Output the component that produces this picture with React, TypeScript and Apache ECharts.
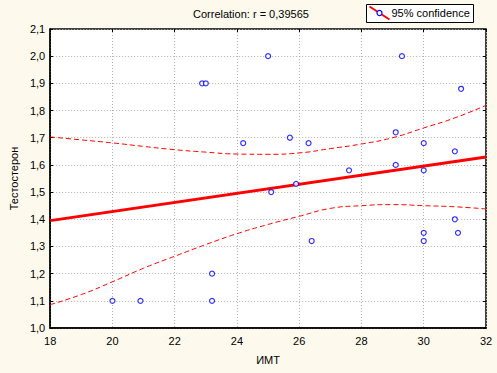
import React, { useEffect, useRef } from "react";
import * as echarts from "echarts";

const imt: number[] = [20.0, 20.9, 22.88, 23.0, 23.2, 23.2, 24.2, 25.0, 25.1, 25.7, 25.9, 26.3, 26.4, 27.6, 29.1, 29.1, 29.3, 30.0, 30.0, 30.0, 30.0, 31.0, 31.0, 31.1, 31.2];
const testo: number[] = [1.10, 1.10, 1.90, 1.90, 1.10, 1.20, 1.68, 2.00, 1.50, 1.70, 1.53, 1.68, 1.32, 1.58, 1.72, 1.60, 2.00, 1.68, 1.58, 1.35, 1.32, 1.65, 1.40, 1.35, 1.88];

const fitX: number[] = [18, 32];
const fitY: number[] = [1.395, 1.629];

const bandX: number[] = [18, 19, 20, 21, 22, 23, 24, 25, 26, 27, 28, 29, 30, 31, 32];
const upperY: number[] = [1.703, 1.692, 1.681, 1.668, 1.656, 1.647, 1.640, 1.639, 1.644, 1.660, 1.677, 1.700, 1.736, 1.773, 1.819];
const lowerY: number[] = [1.086, 1.123, 1.170, 1.220, 1.264, 1.307, 1.347, 1.381, 1.411, 1.440, 1.450, 1.454, 1.450, 1.446, 1.438];

const xTicks = { min: 18, max: 32, interval: 2 };
const yTicks = { min: 1.0, max: 2.1, interval: 0.1 };

const titleText = "Correlation: r = 0,39565";
const legendText = "95% confidence";
const xName = "ИМТ";
const yName = "Тестостерон";

const FONT = "'Liberation Sans', Arial, sans-serif";

export default function App() {
  const ref = useRef<HTMLDivElement>(null);
  useEffect(() => {
    if (!ref.current) return;
    const chart = echarts.init(ref.current, undefined, { renderer: "svg" });
    const red = "#ff0000";
    const grid = "#b0b0b0";
    const yFmt = (v: number) => v.toFixed(1).replace(".", ",");
    const baseX = {
      type: "value" as const,
      min: xTicks.min,
      max: xTicks.max,
      interval: xTicks.interval,
    };
    const baseY = {
      type: "value" as const,
      min: yTicks.min,
      max: yTicks.max,
      interval: yTicks.interval,
    };
    chart.setOption({
      animation: false,
      backgroundColor: "#fef9ed",
      grid: {
        left: 45,
        top: 29,
        width: 441,
        height: 299,
        show: true,
        backgroundColor: "#ffffff",
        borderColor: "#000",
        borderWidth: 1.5,
      },
      xAxis: [
        {
          ...baseX,
          position: "bottom",
          name: xName,
          nameLocation: "middle",
          nameGap: 26,
          nameTextStyle: { color: "#000", fontSize: 11, fontFamily: FONT },
          axisLine: { show: true, lineStyle: { color: "#000", width: 1.5 } },
          axisTick: { show: false },
          axisLabel: { color: "#000", fontSize: 11, fontFamily: FONT, margin: 7 },
          splitLine: { show: true, lineStyle: { color: grid, type: [1, 2], width: 1 } },
        },
        {
          ...baseX,
          position: "top",
          axisLine: { show: false },
          axisTick: { show: true, inside: true, length: 3, lineStyle: { color: "#000" } },
          axisLabel: { show: false },
          splitLine: { show: false },
        },
      ],
      yAxis: [
        {
          ...baseY,
          position: "left",
          name: yName,
          nameLocation: "middle",
          nameGap: 27,
          nameTextStyle: { color: "#000", fontSize: 11, fontFamily: FONT },
          axisLine: { show: true, lineStyle: { color: "#000", width: 1.5 } },
          axisTick: { show: true, inside: true, length: 3, lineStyle: { color: "#000" } },
          axisLabel: { color: "#000", fontSize: 11, fontFamily: FONT, margin: 5, formatter: yFmt },
          splitLine: { show: true, lineStyle: { color: grid, type: [1, 2], width: 1 } },
        },
        {
          ...baseY,
          position: "right",
          axisLine: { show: false },
          axisTick: { show: true, inside: true, length: 3, lineStyle: { color: "#000" } },
          axisLabel: { show: false },
          splitLine: { show: false },
        },
      ],
      series: [
        {
          type: "line",
          data: bandX.map((x, i) => [x, upperY[i]]),
          smooth: true,
          symbol: "none",
          lineStyle: { color: red, width: 1, type: [5, 3] },
          z: 2,
        },
        {
          type: "line",
          data: bandX.map((x, i) => [x, lowerY[i]]),
          smooth: true,
          symbol: "none",
          lineStyle: { color: red, width: 1, type: [5, 3] },
          z: 2,
        },
        {
          type: "line",
          data: fitX.map((x, i) => [x, fitY[i]]),
          symbol: "none",
          lineStyle: { color: red, width: 3 },
          z: 3,
        },
        {
          type: "scatter",
          data: imt.map((x, i) => [x, testo[i]]),
          symbol: "circle",
          symbolSize: 5,
          itemStyle: { color: "#ffffff", borderColor: "#0000ff", borderWidth: 1.2 },
          z: 4,
        },
      ],
      graphic: {
        elements: [
          {
            type: "text",
            left: 193,
            top: 8,
            style: { text: titleText, fill: "#000", font: `11px ${FONT}` },
          },
          {
            type: "group",
            left: 366,
            top: 4,
            children: [
              {
                type: "rect",
                z: 10,
                shape: { x: 0, y: 0, width: 107, height: 18 },
                style: { fill: "#ffffff", stroke: "#000", lineWidth: 1 },
              },
              {
                type: "polyline",
                z: 11,
                shape: { points: [[3, 2], [23, 15]] },
                style: { stroke: red, lineWidth: 2, fill: "none" },
              },
              {
                type: "circle",
                z: 12,
                shape: { cx: 13, cy: 8.5, r: 2.5 },
                style: { fill: "#fff", stroke: "#0000ff", lineWidth: 1.2 },
              },
              {
                type: "text",
                z: 12,
                x: 25,
                y: 3,
                style: { text: legendText, fill: "#000", font: `11px ${FONT}` },
              },
            ],
          },
        ],
      },
    });
    return () => chart.dispose();
  }, []);
  return (
    <div
      ref={ref}
      style={{ position: "fixed", left: 0, top: 0, width: 497, height: 373 }}
    />
  );
}
